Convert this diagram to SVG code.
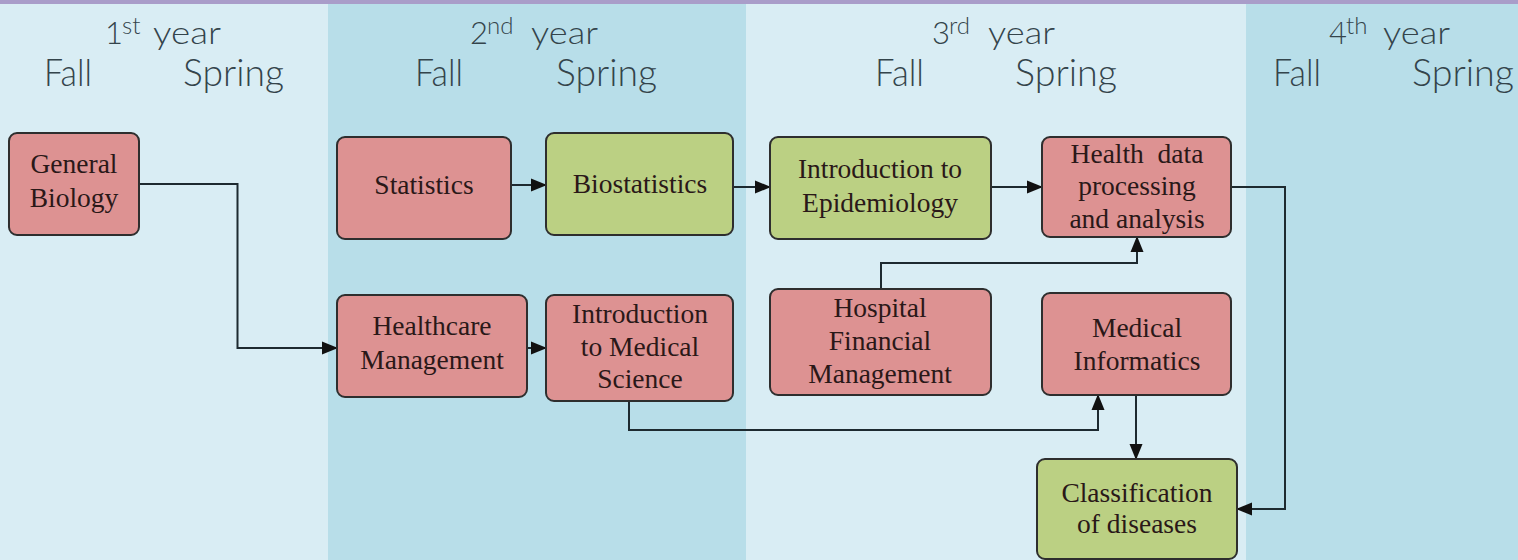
<svg xmlns="http://www.w3.org/2000/svg" width="1518" height="560" viewBox="0 0 1518 560">
<style>
.box{stroke:#2e2e2e;stroke-width:2}
.pink{fill:#dd9292}
.green{fill:#bbd083}
.t{font-family:"Liberation Serif","Times New Roman",serif;font-size:27.5px;fill:#2a1818;text-anchor:middle}
.hdr{font-family:Lato,"Open Sans",sans-serif;font-weight:300;fill:#34444b}
.yr{font-size:31px}
.sup{font-size:24px}
.sem{font-size:38px}
.edge{fill:none;stroke:#1d2a30;stroke-width:2}
</style>
<defs>
<marker id="arr" markerUnits="userSpaceOnUse" markerWidth="16" markerHeight="14" viewBox="0 0 16 14" refX="15" refY="7" orient="auto">
<path d="M0,0.5 L16,7 L0,13.5 z" fill="#111"/>
</marker>
</defs>
<g id="background">
<rect x="0" y="0" width="328" height="560" fill="#d9edf4"/>
<rect x="328" y="0" width="418" height="560" fill="#b8dee9"/>
<rect x="746" y="0" width="500" height="560" fill="#d9edf4"/>
<rect x="1246" y="0" width="272" height="560" fill="#b8dee9"/>
<rect x="0" y="0" width="1518" height="4" fill="#a99dc9"/>
</g>
<g id="headers" class="hdr">
<text x="105" y="44" class="yr">1<tspan class="sup" dx="-1" dy="-10">st</tspan><tspan x="153" dy="10" textLength="68" lengthAdjust="spacingAndGlyphs">year</tspan></text>
<text x="44" y="86" class="sem" textLength="48" lengthAdjust="spacingAndGlyphs">Fall</text>
<text x="183" y="86" class="sem" textLength="101" lengthAdjust="spacingAndGlyphs">Spring</text>
<text x="470" y="44" class="yr">2<tspan class="sup" dx="-1" dy="-10">nd</tspan><tspan x="531" dy="10" textLength="67" lengthAdjust="spacingAndGlyphs">year</tspan></text>
<text x="415" y="86" class="sem" textLength="48" lengthAdjust="spacingAndGlyphs">Fall</text>
<text x="556" y="86" class="sem" textLength="101" lengthAdjust="spacingAndGlyphs">Spring</text>
<text x="932" y="44" class="yr">3<tspan class="sup" dx="-1" dy="-10">rd</tspan><tspan x="988" dy="10" textLength="67" lengthAdjust="spacingAndGlyphs">year</tspan></text>
<text x="875" y="86" class="sem" textLength="49" lengthAdjust="spacingAndGlyphs">Fall</text>
<text x="1015" y="86" class="sem" textLength="102" lengthAdjust="spacingAndGlyphs">Spring</text>
<text x="1329" y="44" class="yr">4<tspan class="sup" dx="-1" dy="-10">th</tspan><tspan x="1383" dy="10" textLength="67" lengthAdjust="spacingAndGlyphs">year</tspan></text>
<text x="1273" y="86" class="sem" textLength="48" lengthAdjust="spacingAndGlyphs">Fall</text>
<text x="1412" y="86" class="sem" textLength="102" lengthAdjust="spacingAndGlyphs">Spring</text>
</g>
<g id="connectors">
<path class="edge" d="M139,184 H237.5 V348 H337" marker-end="url(#arr)"/>
<path class="edge" d="M511,185 H546" marker-end="url(#arr)"/>
<path class="edge" d="M733,187 H770" marker-end="url(#arr)"/>
<path class="edge" d="M991,187 H1042" marker-end="url(#arr)"/>
<path class="edge" d="M527,348 H546" marker-end="url(#arr)"/>
<path class="edge" d="M881,289 V263 H1137 V237" marker-end="url(#arr)"/>
<path class="edge" d="M629,401 V430 H1098 V395" marker-end="url(#arr)"/>
<path class="edge" d="M1136,395 V459" marker-end="url(#arr)"/>
<path class="edge" d="M1231,187 H1285 V509 H1237" marker-end="url(#arr)"/>
</g>
<g id="general-biology">
<rect class="box pink" x="9" y="133" width="130" height="102" rx="8"/>
<text class="t" x="74" y="173">General</text>
<text class="t" x="74" y="207">Biology</text>
</g>
<g id="statistics">
<rect class="box pink" x="337" y="137" width="174" height="102" rx="8"/>
<text class="t" x="424" y="194">Statistics</text>
</g>
<g id="biostatistics">
<rect class="box green" x="546" y="133" width="187" height="102" rx="8"/>
<text class="t" x="640" y="193">Biostatistics</text>
</g>
<g id="intro-epidemiology">
<rect class="box green" x="770" y="137" width="221" height="102" rx="8"/>
<text class="t" x="880" y="178">Introduction to</text>
<text class="t" x="880" y="212">Epidemiology</text>
</g>
<g id="health-data">
<rect class="box pink" x="1042" y="137" width="189" height="100" rx="8"/>
<text class="t" x="1137" y="163" xml:space="preserve">Health  data</text>
<text class="t" x="1137" y="195">processing</text>
<text class="t" x="1137" y="228">and analysis</text>
</g>
<g id="healthcare-management">
<rect class="box pink" x="337" y="295" width="190" height="102" rx="8"/>
<text class="t" x="432" y="335">Healthcare</text>
<text class="t" x="432" y="369">Management</text>
</g>
<g id="intro-medical-science">
<rect class="box pink" x="546" y="295" width="187" height="106" rx="8"/>
<text class="t" x="640" y="323">Introduction</text>
<text class="t" x="640" y="356">to Medical</text>
<text class="t" x="640" y="388">Science</text>
</g>
<g id="hospital-financial-management">
<rect class="box pink" x="770" y="289" width="221" height="106" rx="8"/>
<text class="t" x="880" y="317">Hospital</text>
<text class="t" x="880" y="350">Financial</text>
<text class="t" x="880" y="383">Management</text>
</g>
<g id="medical-informatics">
<rect class="box pink" x="1042" y="293" width="189" height="102" rx="8"/>
<text class="t" x="1137" y="337">Medical</text>
<text class="t" x="1137" y="370">Informatics</text>
</g>
<g id="classification">
<rect class="box green" x="1037" y="459" width="200" height="100" rx="8"/>
<text class="t" x="1137" y="502">Classification</text>
<text class="t" x="1137" y="533">of diseases</text>
</g>
</svg>
